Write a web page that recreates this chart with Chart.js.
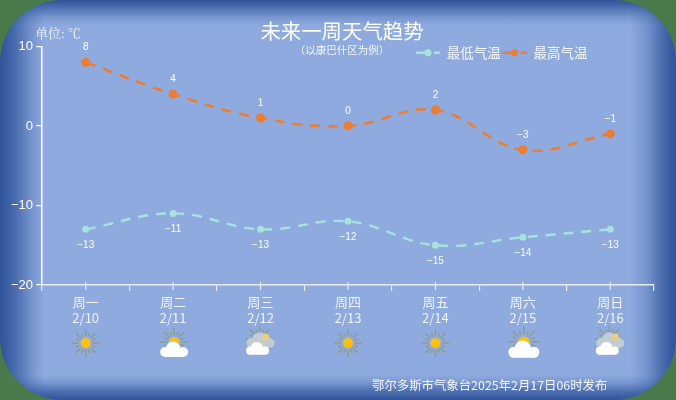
<!DOCTYPE html>
<html><head><meta charset="utf-8">
<script src="https://cdn.jsdelivr.net/npm/chart.js@4"></script>
<style>
html,body{margin:0;padding:0;width:676px;height:400px;overflow:hidden;background:#4a7a4c}
#panel{position:absolute;left:0;top:0;width:676px;height:400px;border-radius:62px/62px;overflow:hidden;
background:
 linear-gradient(to right,#2f5299 0,rgba(47,82,153,.75) 14px,rgba(47,82,153,.25) 32px,rgba(47,82,153,0) 44px),
 linear-gradient(to left,#2f5299 0,rgba(47,82,153,.8) 10px,rgba(47,82,153,.25) 30px,rgba(47,82,153,0) 46px),
 linear-gradient(to bottom,#2f5299 0,rgba(47,82,153,.7) 7px,rgba(47,82,153,.2) 18px,rgba(47,82,153,0) 26px),
 linear-gradient(to top,#2f5299 0,rgba(47,82,153,.7) 8px,rgba(47,82,153,.2) 18px,rgba(47,82,153,0) 25px),
 #8eaadf}
canvas{position:absolute;left:0;top:0}
</style></head><body>
<div id="panel"></div>
<canvas id="c" width="676" height="400"></canvas>
<script>
const days=['周一','周二','周三','周四','周五','周六','周日'];
const dates=['2/10','2/11','2/12','2/13','2/14','2/15','2/16'];
const lows=[-13,-11,-13,-12,-15,-14,-13];
const highs=[8,4,1,0,2,-3,-1];
const weather=['sun','partly','overcast','sun','sun','partly','overcast'];
const titleText='未来一周天气趋势';
const subtitleText='（以康巴什区为例）';
const unitText='单位: ℃';
const footerText='鄂尔多斯市气象台2025年2月17日06时发布';
const lowColor='#a6e3de', highColor='#ed7d31';
const cjk='"Noto Sans CJK SC","Noto Sans",sans-serif';
const fmt=v=>String(v).replace('-','−');

function ray(ctx,x,y,r0,r1,a){ctx.moveTo(x+r0*Math.cos(a),y+r0*Math.sin(a));ctx.lineTo(x+r1*Math.cos(a),y+r1*Math.sin(a));}
function sun(ctx,x,y,k){
  ctx.save();ctx.strokeStyle='#8f9c8a';ctx.lineWidth=1.5;ctx.beginPath();
  for(let i=0;i<16;i++){ray(ctx,x,y,7*k,(i%2?10.5:14)*k,i*Math.PI/8);}
  ctx.stroke();
  ctx.fillStyle='#ffbf0f';ctx.beginPath();ctx.arc(x,y,5*k,0,7);ctx.fill();ctx.restore();
}
function cloud(ctx,x,y,w,col){
  const u=w/28;ctx.save();ctx.fillStyle=col;ctx.beginPath();
  ctx.arc(x-9*u,y+2*u,5*u,0,7);ctx.fill();ctx.beginPath();
  ctx.arc(x-1*u,y-1*u,7.5*u,0,7);ctx.fill();ctx.beginPath();
  ctx.arc(x+9*u,y+2*u,5*u,0,7);ctx.fill();
  ctx.fillRect(x-9*u,y+1*u,18*u,6*u);ctx.restore();
}
function icon(ctx,kind,x,big){
  const k=big?1.12:1;
  if(kind==='sun'){sun(ctx,x,343,1);}
  else if(kind==='partly'){sun(ctx,x+1,342,k);cloud(ctx,x+1,350,big?31:28,'#fff');}
  else{sun(ctx,x-1,339,1);cloud(ctx,x,341,28,'#c3ccd6');
    ctx.fillStyle='#e8cf82';ctx.beginPath();ctx.arc(x+5,337,3.5,0,7);ctx.fill();
    cloud(ctx,x-3,349,23,'#fff');}
}
const decor={id:'decor',
  afterLayout(chart){
    const move=(b,top,left)=>{const h=b.bottom-b.top,w=b.right-b.left;b.top=top;b.bottom=top+h;b.left=left;b.right=left+w;};
    move(chart.titleBlock,21,15);
    const sub=chart.boxes.find(b=>b!==chart.titleBlock&&b.options&&b.options.text===subtitleText);
    if(sub)move(sub,45,15);
    move(chart.legend,44,414);
  },
  afterDatasetsDraw(chart){
    const {ctx,scales:{x,y}}=chart;
    ctx.save();
    ctx.strokeStyle='#e6ecfa';ctx.lineWidth=1.2;ctx.beginPath();
    days.forEach((d,i)=>{const p=x.getPixelForValue(i);ctx.moveTo(p,y.bottom-3);ctx.lineTo(p,y.bottom+5);});
    ctx.stroke();
    ctx.fillStyle='#fff';ctx.font='10px "Liberation Sans",sans-serif';ctx.textAlign='center';ctx.textBaseline='middle';
    highs.forEach((v,i)=>ctx.fillText(fmt(v),x.getPixelForValue(i),y.getPixelForValue(v)-15));
    lows.forEach((v,i)=>ctx.fillText(fmt(v),x.getPixelForValue(i),y.getPixelForValue(v)+16));
    weather.forEach((w,i)=>icon(ctx,w,x.getPixelForValue(i),i===5));
    ctx.fillStyle='#f2f5fc';ctx.textAlign='left';ctx.font='13px "Liberation Serif","Noto Serif CJK SC",'+cjk;
    ctx.fillText(unitText,35,35);
    ctx.font='12.4px '+cjk;ctx.fillStyle='#f4f7fd';ctx.fillText(footerText,372,385);
    chart.legend.legendHitBoxes.forEach((h,i)=>{
      ctx.fillStyle=chart.data.datasets[i].borderColor;ctx.beginPath();ctx.arc(h.left+12,h.top+h.height/2,3.5,0,7);ctx.fill();
    });
    ctx.restore();
  }};
new Chart(document.getElementById('c'),{
  type:'line',
  data:{labels:days.map((d,i)=>[d,dates[i]]),datasets:[
    {label:'最低气温',data:lows,borderColor:lowColor,backgroundColor:lowColor,borderWidth:2.4,borderDash:[10,8],tension:.4,pointRadius:3.5,pointBackgroundColor:lowColor,pointBorderWidth:0},
    {label:'最高气温',data:highs,borderColor:highColor,backgroundColor:highColor,borderWidth:2.6,borderDash:[10,8],tension:.4,pointRadius:4.5,pointBackgroundColor:highColor,pointBorderWidth:0}
  ]},
  options:{responsive:false,animation:false,
    layout:{padding:{top:-10,right:22,left:0,bottom:0}},
    plugins:{
      title:{display:true,text:titleText,color:'#fff',padding:0,font:{family:cjk,size:20.4,weight:'normal',lineHeight:1}},
      subtitle:{display:true,text:subtitleText,color:'#f4f7fd',padding:0,font:{family:cjk,size:10.5,weight:'normal',lineHeight:1}},
      legend:{display:true,position:'top',align:'start',
        labels:{color:'#f4f7fd',padding:2,boxWidth:24,boxHeight:0,font:{family:cjk,size:13.5},
          generateLabels(chart){return Chart.defaults.plugins.legend.labels.generateLabels(chart).map(l=>({...l,fillStyle:'rgba(0,0,0,0)'}));}}},
      tooltip:{enabled:false}
    },
    scales:{
      x:{offset:true,
        afterFit(s){s.height=115;},
        border:{color:'#e6ecfa',width:1.5},
        grid:{display:true,offset:true,drawOnChartArea:false,tickLength:6,color:'#e6ecfa',lineWidth:1.2},
        ticks:{color:'#f0f4fc',padding:3,maxRotation:0,autoSkip:false,font:{family:cjk,size:13,lineHeight:1.25}}},
      y:{min:-20,max:10,
        afterFit(s){s.width=42;},
        border:{color:'#fff',width:1.5},
        grid:{drawOnChartArea:false,tickLength:6,color:'#fff',lineWidth:1.2},
        ticks:{stepSize:10,color:'#fff',padding:3,font:{family:'"Liberation Sans",sans-serif',size:13},callback:v=>fmt(v)}}
    }},
  plugins:[decor]
});
</script></body></html>
